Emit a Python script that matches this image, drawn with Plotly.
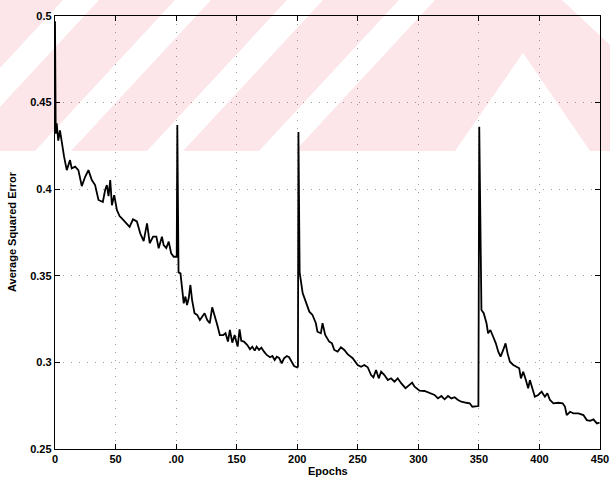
import plotly.graph_objects as go

# Training error per epoch for four consecutive training runs (restarts at 100, 200, 350)
run1_epochs = [0, 0.6, 1.4, 2.7, 4.1, 5.5, 7.5, 9.7, 12.4, 13.8, 16.6, 19.3, 22.1, 24.9, 27.6,
               30.4, 33.1, 35.9, 39.5, 41.4, 42.8, 44.2, 45.6, 47, 48.9, 51.1, 53.3, 55.2, 58.9,
               61.6, 64.4, 67.6, 70.4, 73.2, 76, 78.2, 81, 83.7, 85.6, 88.3, 89.7, 91.9, 93.9,
               95.9, 98, 100.5]
run1_error = [0.497, 0.432, 0.438, 0.428, 0.434, 0.4274, 0.4188, 0.411, 0.4168, 0.412, 0.413,
              0.411, 0.4018, 0.4072, 0.411, 0.4053, 0.4024, 0.3938, 0.3926, 0.3995, 0.4024,
              0.396, 0.4053, 0.3907, 0.3966, 0.388, 0.3845, 0.3832, 0.3807, 0.3783, 0.3826,
              0.3814, 0.3745, 0.370, 0.3803, 0.3688, 0.3726, 0.3726, 0.3659, 0.3726, 0.3678,
              0.366, 0.3697, 0.363, 0.361, 0.3611]

run2_epochs = [101, 102, 103.6, 104.9, 106.3, 107.7, 109, 110.4, 111.8, 113.2, 115.2, 117.4,
               119.6, 121.5, 123.5, 125.7, 127.8, 129.8, 131.7, 134, 136.1, 138.9, 140.8,
               142.8, 144.4, 146.4, 148.3, 150, 150.8, 152.4, 153.8, 156, 158.8, 161, 162.9,
               164.9, 166.5, 168.5, 170.4, 172.6, 174.8, 177.6, 179.5, 181.4, 183.1, 185,
               187.2, 189.1, 191.4, 193.3, 195.3, 197.4, 199.7, 200.6]
run2_error = [0.437, 0.352, 0.3514, 0.3418, 0.3341, 0.338, 0.3331, 0.337, 0.3447, 0.336, 0.3284,
              0.3274, 0.3245, 0.3264, 0.3284, 0.3245, 0.3226, 0.3318, 0.3264, 0.3216, 0.3158,
              0.3158, 0.3168, 0.312, 0.3187, 0.3114, 0.3158, 0.31, 0.3091, 0.3191, 0.3125,
              0.312, 0.31, 0.3076, 0.3091, 0.3068, 0.3091, 0.3072, 0.3085, 0.3062, 0.3043,
              0.303, 0.3037, 0.3014, 0.3033, 0.3026, 0.2995, 0.3023, 0.3037, 0.303, 0.3004,
              0.2979, 0.2972, 0.2975]

run3_epochs = [201, 202, 204.5, 207.2, 210, 212.6, 215.4, 216.7, 219.5, 220.9, 223.1, 226.4,
               228.7, 230.6, 233.4, 236.1, 238.9, 241.6, 245.8, 249.9, 252.7, 255.4, 258.2,
               261, 262.9, 265.1, 267.3, 269.3, 272, 274.8, 277.5, 280.3, 283, 285.8, 289.4,
               292.7, 294.9, 296.9, 301, 305.1, 309.3, 313.4, 316.2, 319, 321.7, 324.5, 327.3,
               330, 332.8, 335.5, 339.7, 342.4, 344.6, 348, 349.6]
run3_error = [0.433, 0.352, 0.340, 0.335, 0.3293, 0.3274, 0.3226, 0.3177, 0.3168, 0.3226,
              0.3158, 0.312, 0.311, 0.3072, 0.3062, 0.3087, 0.3072, 0.3048, 0.3024, 0.2985,
              0.2975, 0.2985, 0.2972, 0.2927, 0.2914, 0.2956, 0.2908, 0.2946, 0.2927, 0.2898,
              0.2908, 0.2889, 0.2908, 0.288, 0.2851, 0.287, 0.2883, 0.286, 0.2837, 0.2835,
              0.2822, 0.2812, 0.2792, 0.2806, 0.2787, 0.2806, 0.2792, 0.2799, 0.2783, 0.2773,
              0.2767, 0.2764, 0.2744, 0.2744, 0.2748]

run4_epochs = [350.3, 351.3, 352.1, 354, 356.3, 357.6, 359.5, 361.8, 364, 366, 367.9, 370.1,
               372, 373.7, 375.6, 378.4, 381.1, 383.3, 384.7, 386.6, 388.8, 390.7, 392.1,
               394.3, 396.2, 399, 401.8, 404.5, 406.5, 408.7, 411.5, 415.6, 419.2, 421.1,
               422.5, 425.3, 428, 432.2, 436.3, 439.1, 441.8, 444.6, 447.4, 449.6]
run4_error = [0.436, 0.348, 0.3303, 0.3284, 0.3226, 0.3168, 0.3187, 0.3148, 0.311, 0.3062,
              0.3033, 0.3072, 0.311, 0.3052, 0.3004, 0.2985, 0.2975, 0.2966, 0.2908, 0.2946,
              0.2898, 0.285, 0.2898, 0.2841, 0.2802, 0.2812, 0.2831, 0.2802, 0.2822, 0.2783,
              0.2764, 0.2767, 0.2764, 0.2744, 0.2696, 0.2715, 0.2706, 0.2706, 0.2696, 0.2667,
              0.2663, 0.2671, 0.2648, 0.2652]

x_ticks = [0, 50, 100, 150, 200, 250, 300, 350, 400, 450]
x_tick_labels = ["0", "50", ".00", "150", "200", "250", "300", "350", "400", "450"]
y_ticks = [0.25, 0.3, 0.35, 0.4, 0.45, 0.5]
y_tick_labels = ["0.25", "0.3", "0.35", "0.4", "0.45", "0.5"]

epochs = run1_epochs + run2_epochs + run3_epochs + run4_epochs
error = run1_error + run2_error + run3_error + run4_error

W, H = 610, 479
L, R, T, B = 55, 600, 16, 449


def px(x):
    return (x - L) / (R - L)


def py(y):
    return (B - y) / (B - T)


def poly(points):
    return "M " + " L ".join(f"{px(x):.4f},{py(y):.4f}" for x, y in points) + " Z"


def region(points, color):
    return dict(type="path", xref="paper", yref="paper", layer="below", line_width=0,
                fillcolor=color, path=poly(points))


# pale pink diagonal-stripe band along the top of the page
pink = "#fce6ea"
band_bottom = 151
shift = 140
stripe_w = 36
shapes = [region([(0, 0), (W, 0), (W, band_bottom), (0, band_bottom)], pink)]
for xb in [-77, 35, 147, 259]:
    shapes.append(region([(xb, band_bottom), (xb + stripe_w, band_bottom),
                          (xb + stripe_w + shift, 0), (xb + shift, 0)], "white"))
shapes.append(region([(455, band_bottom), (523, 53), (590, band_bottom)], "white"))
shapes.append(region([(562, 0), (W, 0), (W, 45)], "white"))

fig = go.Figure()
fig.add_trace(go.Scatter(x=epochs, y=error, mode="lines",
                         line=dict(color="black", width=1.8), showlegend=False))

font = dict(family="Liberation Sans, Arial, sans-serif", size=11, color="black", weight="bold")
axis_common = dict(showline=True, linecolor="black", linewidth=1.4, mirror="ticks",
                   ticks="inside", ticklen=5, tickwidth=1.2, tickcolor="black",
                   showgrid=True, gridcolor="rgba(0,0,0,0.38)", gridwidth=1,
                   griddash="1px,7px", zeroline=False, tickfont=font)

fig.update_xaxes(range=[0, 450], tickvals=x_ticks, ticktext=x_tick_labels, **axis_common)
fig.update_yaxes(range=[0.25, 0.5], tickvals=y_ticks, ticktext=y_tick_labels, **axis_common)

fig.update_layout(
    width=W, height=H,
    margin=dict(l=L, r=W - R, t=T, b=H - B, autoexpand=False),
    paper_bgcolor="white", plot_bgcolor="rgba(0,0,0,0)",
    shapes=shapes,
    annotations=[
        dict(text="Epochs", xref="paper", yref="paper", x=0.5, y=py(471),
             xanchor="center", yanchor="middle", showarrow=False, font=font),
        dict(text="Average Squared Error", xref="paper", yref="paper", x=px(12), y=py(232),
             xanchor="center", yanchor="middle", textangle=-90, showarrow=False, font=font),
    ],
)

fig.write_html("out.html")
